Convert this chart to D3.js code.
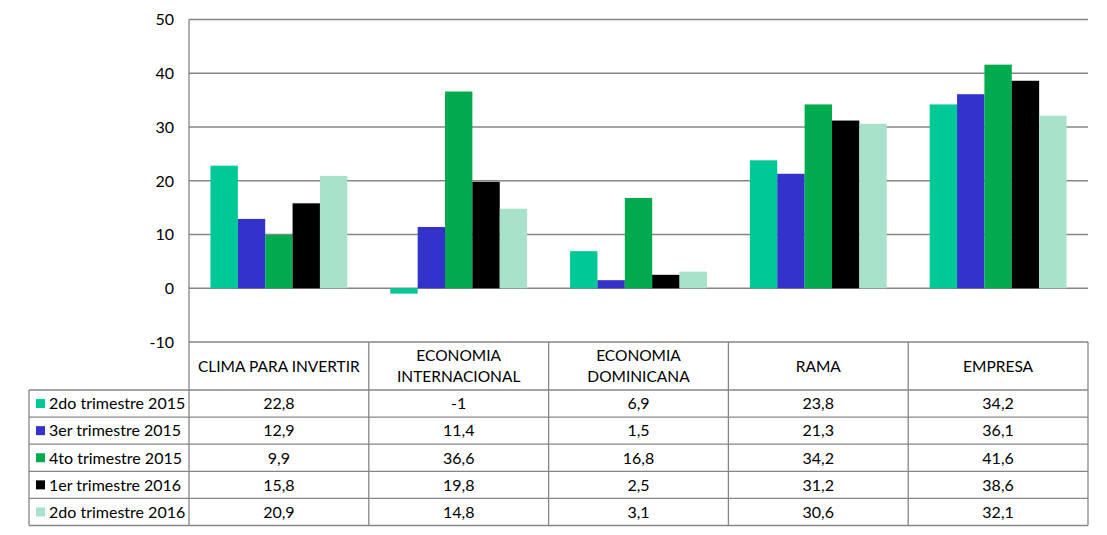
<!DOCTYPE html>
<html>
<head>
<meta charset="utf-8">
<script src="https://cdn.jsdelivr.net/npm/d3@7"></script>
<style>
  body { margin: 0; background: #fff; }
  text { font-family: Lato, "Open Sans", sans-serif; fill: #000; }
</style>
</head>
<body>
<script>

// data
var categories = ["CLIMA PARA INVERTIR", "ECONOMIA INTERNACIONAL", "ECONOMIA DOMINICANA", "RAMA", "EMPRESA"];
var categoryLines = [["CLIMA PARA INVERTIR"], ["ECONOMIA", "INTERNACIONAL"], ["ECONOMIA", "DOMINICANA"], ["RAMA"], ["EMPRESA"]];
var seriesNames = ["2do trimestre 2015", "3er trimestre 2015", "4to trimestre 2015", "1er trimestre 2016", "2do trimestre 2016"];
var s2do2015 = [22.8, -1, 6.9, 23.8, 34.2];
var s3er2015 = [12.9, 11.4, 1.5, 21.3, 36.1];
var s4to2015 = [9.9, 36.6, 16.8, 34.2, 41.6];
var s1er2016 = [15.8, 19.8, 2.5, 31.2, 38.6];
var s2do2016 = [20.9, 14.8, 3.1, 30.6, 32.1];
var seriesValues = [s2do2015, s3er2015, s4to2015, s1er2016, s2do2016];
var yTicks = [-10, 0, 10, 20, 30, 40, 50];

var colors = ["#00c896", "#3333cc", "#00ab4e", "#000000", "#a9e2cb"];
var lineColor = "#868686";

var W = 1107, H = 535;
var plot = {left: 189, right: 1088, top: 19.5, bottom: 342};
var tableLeft = 29, headerBottom = 390, rowH = 27.1;

var svg = d3.select("body").append("svg")
    .attr("width", W)
    .attr("height", H);

var x0 = d3.scaleBand()
    .domain(categories)
    .range([plot.left, plot.right]);

var x1 = d3.scaleBand()
    .domain(seriesNames)
    .range([0, x0.bandwidth()])
    .paddingOuter(0.785);

var y = d3.scaleLinear()
    .domain([-10, 50])
    .range([plot.bottom, plot.top]);

// gridlines
svg.append("g").selectAll("line")
  .data(yTicks)
  .enter().append("line")
    .attr("x1", plot.left)
    .attr("x2", plot.right)
    .attr("y1", function(d) { return y(d); })
    .attr("y2", function(d) { return y(d); })
    .attr("stroke", lineColor)
    .attr("stroke-width", 1.3);

// y axis labels
svg.append("g").selectAll("text")
  .data(yTicks)
  .enter().append("text")
    .attr("x", 174)
    .attr("y", function(d) { return y(d); })
    .attr("dy", "0.36em")
    .attr("text-anchor", "end")
    .style("font-size", "16px")
    .text(function(d) { return d; });

// bars
var groups = svg.append("g").selectAll("g")
  .data(seriesValues)
  .enter().append("g")
    .attr("fill", function(d, i) { return colors[i]; });

groups.each(function(vals, si) {
  d3.select(this).selectAll("rect")
    .data(vals)
    .enter().append("rect")
      .attr("x", function(v, ci) { return x0(categories[ci]) + x1(seriesNames[si]); })
      .attr("width", x1.bandwidth())
      .attr("y", function(v) { return y(Math.max(0, v)); })
      .attr("height", function(v) { return Math.abs(y(v) - y(0)); });
});

// y axis line
svg.append("line")
    .attr("x1", plot.left).attr("x2", plot.left)
    .attr("y1", plot.top).attr("y2", headerBottom + rowH * 5)
    .attr("stroke", lineColor).attr("stroke-width", 1.3);

// table grid
var tableBottom = headerBottom + rowH * seriesNames.length;
var grid = svg.append("g").attr("stroke", lineColor).attr("stroke-width", 1.3);

categories.forEach(function(c, i) {
  grid.append("line")
    .attr("x1", x0(c) + x0.bandwidth()).attr("x2", x0(c) + x0.bandwidth())
    .attr("y1", plot.bottom).attr("y2", tableBottom);
});
grid.append("line")
    .attr("x1", tableLeft).attr("x2", tableLeft)
    .attr("y1", headerBottom).attr("y2", tableBottom);
for (var r = 0; r <= seriesNames.length; r++) {
  grid.append("line")
    .attr("x1", tableLeft).attr("x2", plot.right)
    .attr("y1", headerBottom + r * rowH).attr("y2", headerBottom + r * rowH);
}

// header labels
categoryLines.forEach(function(lines, i) {
  var cx = x0(categories[i]) + x0.bandwidth() / 2;
  var cy = (plot.bottom + headerBottom) / 2;
  lines.forEach(function(l, k) {
    svg.append("text")
      .attr("x", cx)
      .attr("y", cy + (k - (lines.length - 1) / 2) * 21)
      .attr("dy", "0.36em")
      .attr("text-anchor", "middle")
      .style("font-size", "15.5px")
      .text(l);
  });
});

// rows
seriesNames.forEach(function(name, si) {
  var cy = headerBottom + si * rowH + rowH / 2;
  svg.append("rect")
    .attr("x", 36).attr("y", cy - 4.5)
    .attr("width", 9).attr("height", 9)
    .attr("fill", colors[si]);
  svg.append("text")
    .attr("x", 49).attr("y", cy)
    .attr("dy", "0.36em")
    .style("font-size", "16px")
    .text(name);
  seriesValues[si].forEach(function(v, ci) {
    svg.append("text")
      .attr("x", x0(categories[ci]) + x0.bandwidth() / 2)
      .attr("y", cy)
      .attr("dy", "0.36em")
      .attr("text-anchor", "middle")
      .style("font-size", "16px")
      .text(String(v).replace(".", ","));
  });
});

</script>
</body>
</html>
